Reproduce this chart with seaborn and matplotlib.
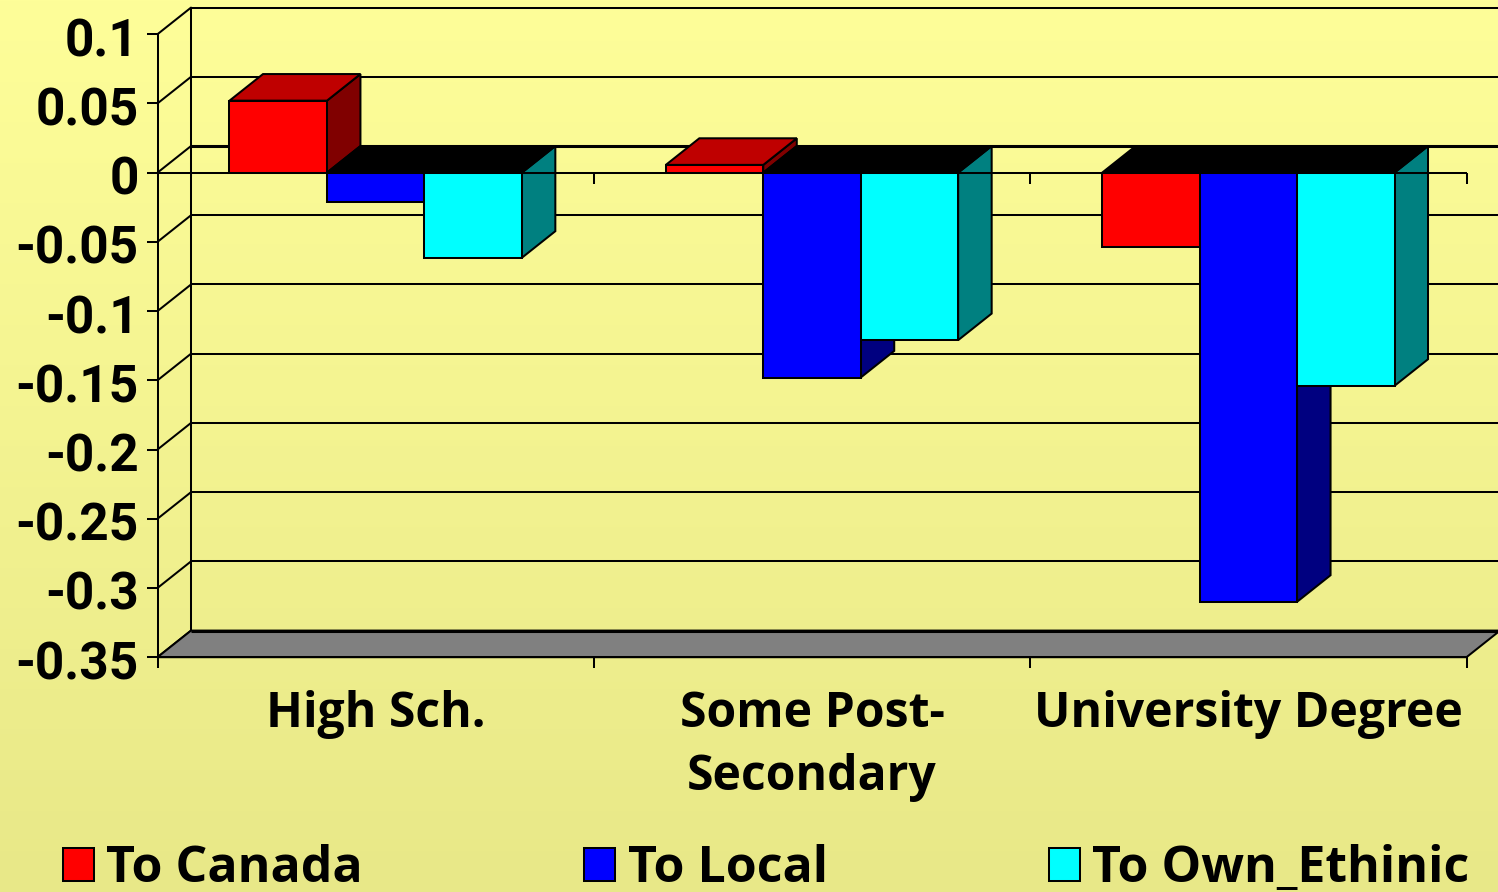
import numpy as np
import pandas as pd
import matplotlib
matplotlib.use("Agg")
import matplotlib.pyplot as plt
from matplotlib.patches import Polygon
from matplotlib.colors import to_rgb
from matplotlib.transforms import ScaledTranslation
import seaborn as sns

# Survey data: change in sense of belonging by education level
categories = ["High Sch.", "Some Post-\nSecondary", "University Degree"]
series_names = ["To Canada", "To Local", "To Own_Ethinic"]
to_canada = [0.052, 0.0056, -0.054]
to_local = [-0.021, -0.148, -0.31]
to_own_ethnic = [-0.0615, -0.121, -0.154]
y_ticks = [0.1, 0.05, 0, -0.05, -0.1, -0.15, -0.2, -0.25, -0.3, -0.35]
y_tick_labels = ["0.1", "0.05", "0", "-0.05", "-0.1", "-0.15", "-0.2", "-0.25", "-0.3", "-0.35"]
front_colors = ["#FF0000", "#0000FF", "#00FFFF"]
side_colors = ["#800000", "#000080", "#008080"]
top_color_up = ["#BF0000", "#0000BF", "#00BFBF"]

df = pd.DataFrame({
    "education": np.repeat(categories, 3),
    "series": series_names * 3,
    "value": np.ravel(np.column_stack([to_canada, to_local, to_own_ethnic])),
})

W, H = 1498, 892
sns.set_theme(style="white")
plt.rcParams["font.family"] = ["Open Sans", "DejaVu Sans"]
plt.rcParams["font.weight"] = "bold"
plt.rcParams["text.color"] = "black"

fig = plt.figure(figsize=(W / 100, H / 100), dpi=100)

# Pale yellow page background, fading slightly downwards
top_rgb, bottom_rgb = np.array(to_rgb("#FEFE99")), np.array(to_rgb("#E8E888"))
ramp = np.linspace(0, 1, H)[:, None, None]
page = top_rgb[None, None, :] * (1 - ramp) + bottom_rgb[None, None, :] * ramp
fig.figimage(np.tile(page, (1, W, 1)), zorder=-5)

PX_LEFT, PX_RIGHT, PX_TOP, PX_BOTTOM = 157.5, 1466.5, 34.2, 657.2
ax = fig.add_axes([PX_LEFT / W, 1 - PX_BOTTOM / H, (PX_RIGHT - PX_LEFT) / W, (PX_BOTTOM - PX_TOP) / H])
ax.patch.set_alpha(0)

EDGE = 1.45
sns.barplot(
    data=df, x="education", y="value", hue="series", order=categories, hue_order=series_names,
    palette=front_colors, width=0.67, gap=0, dodge=True, edgecolor="black", linewidth=EDGE,
    saturation=1, errorbar=None, ax=ax, zorder=10,
)

ax.set_xlim(-0.5, 2.5)
ax.set_ylim(-0.35, 0.1)
ax.set_xlabel("")
ax.set_ylabel("")

# Oblique depth of the box, converted from pixels to data units
dx = 33.5 * 3 / (PX_RIGHT - PX_LEFT)
dy = 26.6 * 0.45 / (PX_BOTTOM - PX_TOP)

# Back wall, left wall and floor
x0, x1 = ax.get_xlim()
for tick in y_ticks:
    lw = 2.2 if tick == 0 else EDGE
    ax.plot([x0 + dx, x1 + dx], [tick + dy, tick + dy], color="black", lw=lw, clip_on=False, zorder=2,
            solid_capstyle="butt")
    ax.plot([x0, x0 + dx], [tick, tick + dy], color="black", lw=EDGE, clip_on=False, zorder=2)
ax.plot([x0 + dx, x0 + dx], [-0.35 + dy, 0.1 + dy], color="black", lw=EDGE, clip_on=False, zorder=2)
ax.add_patch(Polygon(
    [(x0, -0.35), (x0 + dx, -0.35 + dy), (x1 + dx, -0.35 + dy), (x1, -0.35)],
    closed=True, facecolor="#808080", edgecolor="black", lw=EDGE, clip_on=False, zorder=3,
))
ax.plot([x0 + dx, x1 + dx], [-0.35 + dy, -0.35 + dy], color="black", lw=2.2, clip_on=False, zorder=3,
        solid_capstyle="butt")

# Side and top faces of each bar, stacked so later bars cover earlier ones
for s, container in enumerate(ax.containers):
    for rect in container:
        bx0, bx1 = rect.get_x(), rect.get_x() + rect.get_width()
        value = rect.get_height()
        high, low = max(value, 0), min(value, 0)
        z = 10 + s * 2
        rect.set_zorder(z + 1)
        rect.set_clip_on(False)
        ax.add_patch(Polygon(
            [(bx1, low), (bx1 + dx, low + dy), (bx1 + dx, high + dy), (bx1, high)],
            closed=True, facecolor=side_colors[s], edgecolor="black", lw=EDGE, clip_on=False, zorder=z,
        ))
        ax.add_patch(Polygon(
            [(bx0, high), (bx0 + dx, high + dy), (bx1 + dx, high + dy), (bx1, high)],
            closed=True, facecolor=top_color_up[s] if value > 0 else "black",
            edgecolor="black", lw=EDGE, clip_on=False, zorder=z,
        ))

# Category axis at zero, drawn across the bars
ax.axhline(0, color="black", lw=EDGE, zorder=30)
boundaries = [-0.5, 0.5, 1.5, 2.5]
ax.vlines(boundaries[1:], -11 * 0.45 / (PX_BOTTOM - PX_TOP), 0, color="black", lw=EDGE, clip_on=False, zorder=30)

for name in ("top", "right"):
    ax.spines[name].set_visible(False)
for name in ("left", "bottom"):
    ax.spines[name].set_color("black")
    ax.spines[name].set_linewidth(EDGE)
    ax.spines[name].set_zorder(5)

ax.set_yticks(y_ticks, y_tick_labels)
ax.set_xticks([0, 1, 2], categories)
ax.set_xticks(boundaries, minor=True)
ax.tick_params(axis="y", left=True, length=8, width=EDGE, pad=5.5, labelsize=37, labelcolor="black", color="black")
ax.tick_params(axis="x", which="major", bottom=False, length=0, pad=23.6, labelsize=34.7, labelcolor="black")
ax.tick_params(axis="x", which="minor", bottom=True, length=8, width=EDGE, color="black")
for label in ax.get_xticklabels():
    label.set_fontweight("bold")
    label.set_linespacing(1.39)

# The value labels sit a touch below their ticks
nudge = ScaledTranslation(0, -2.5 / 100, fig.dpi_scale_trans)
for label in ax.get_yticklabels():
    label.set_fontfamily(["Roboto", "DejaVu Sans"])
    label.set_fontweight("bold")
    label.set_transform(label.get_transform() + nudge)

sns.move_legend(
    ax, loc="lower left", bbox_to_anchor=(63 / W, -2 / H), bbox_transform=fig.transFigure,
    ncol=3, title=None, frameon=False, fontsize=36, borderpad=0, borderaxespad=0,
    handlelength=0.62, handleheight=0.62, handletextpad=0.25, columnspacing=4.42,
)
for text in ax.get_legend().get_texts():
    text.set_fontweight("bold")

fig.savefig("out.png", dpi=100)
